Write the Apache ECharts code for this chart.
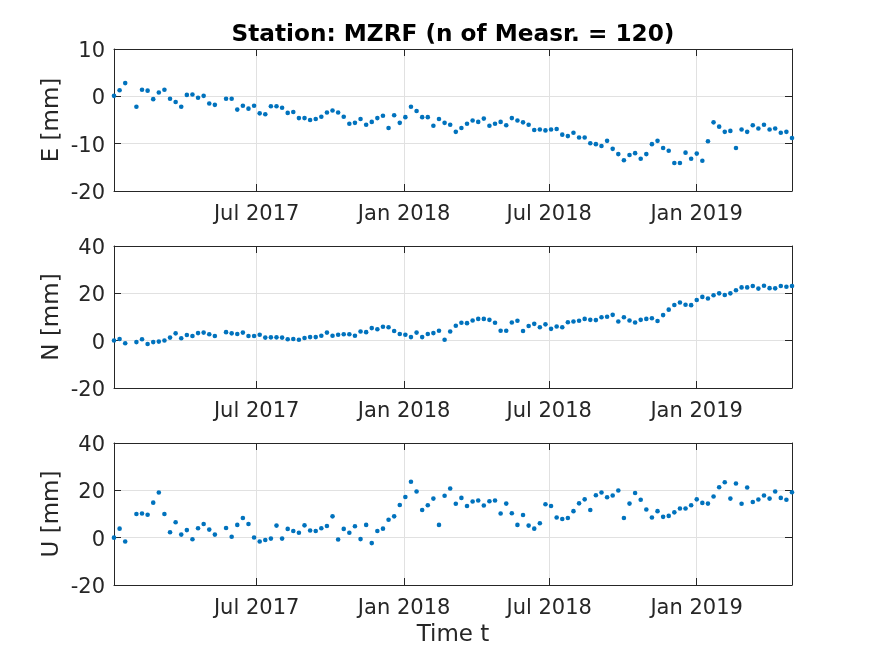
<!DOCTYPE html>
<html><head><meta charset="utf-8">
<style>html,body{margin:0;padding:0;background:#fff}#c{width:875px;height:656px}</style>
<script src="https://cdn.jsdelivr.net/npm/echarts@6/dist/echarts.min.js"></script>
</head><body><div id="c"></div>
<script>
const titleText = 'Station: MZRF (n of Measr. = 120)';
const xName = 'Time t';
const firstDay = '2017-01-04';
const lastDay = '2019-04-30';
const tickDates = ['2017-07-01','2018-01-01','2018-07-01','2019-01-01'];
const tickLabels = ['Jul 2017','Jan 2018','Jul 2018','Jan 2019'];
const panelNames = ['E [mm]','N [mm]','U [mm]'];
const yMins = [-20,-20,-20];
const yMaxs = [10,40,40];
const yIntervals = [10,20,20];
const E = [0.1,1.3,2.8,null,-2.2,1.4,1.2,-0.6,0.8,1.4,-0.5,-1.2,-2.2,0.3,0.4,-0.3,0.1,-1.5,-1.8,null,-0.5,-0.5,-2.8,-2.0,-2.6,-2.0,-3.6,-3.8,-2.1,-2.1,-2.4,-3.5,-3.3,-4.6,-4.6,-5.0,-4.8,-4.3,-3.4,-3.0,-3.4,-4.3,-5.8,-5.6,-4.8,-6.0,-5.4,-4.6,-4.1,-6.7,-4.0,-5.6,-4.4,-2.2,-3.1,-4.4,-4.4,-6.2,-4.8,-5.6,-6.0,
-7.5,-6.7,-5.8,-5.1,-5.4,-4.7,-6.2,-5.8,-5.4,-6.1,-4.6,-5.1,-5.5,-6.0,-7.1,-7.0,-7.2,-7.0,-6.9,-8.1,-8.4,-7.7,-8.7,-8.7,-9.9,-10.1,-10.5,-9.4,-11.1,-12.2,-13.5,-12.4,-12.0,-13.2,-12.2,-10.1,-9.4,-10.9,-11.5,-14.1,-14.1,-11.9,-13.2,-12.1,-13.6,-9.5,-5.5,-6.4,-7.5,-7.3,-10.9,-7.0,-7.5,-6.1,-6.8,-6.0,-7.0,-6.8,-7.7,-7.5,-8.8];
const N = [0.1,0.7,-1.1,null,-0.6,0.6,-1.4,-0.6,-0.4,0.1,1.3,3.1,1.0,2.4,2.0,3.2,3.4,2.7,2.0,null,3.6,3.1,2.8,3.4,2.0,2.0,2.5,1.3,1.4,1.4,1.3,0.6,0.7,0.4,1.1,1.5,1.5,2.1,3.4,2.1,2.5,2.7,2.7,2.1,3.9,3.6,5.3,4.8,5.9,5.7,4.1,2.8,2.5,1.5,3.4,1.5,2.8,3.2,4.2,0.4,3.9,
6.3,7.6,7.4,8.5,9.2,9.2,8.8,7.6,4.2,4.2,7.7,8.4,4.1,6.2,7.1,5.7,6.9,5.0,6.0,5.7,7.8,8.1,8.4,9.2,8.8,8.7,9.9,10.1,10.9,8.1,9.9,8.5,7.7,8.8,9.2,9.5,8.3,10.8,13.1,15.1,16.1,15.2,15.0,17.2,18.5,17.8,19.2,20.0,19.3,20.0,21.3,22.5,22.5,23.1,22.0,23.2,22.2,22.1,23.1,22.8,23.1];
const U = [0,3.8,-1.6,null,10.0,10.2,9.7,14.8,19.1,10.0,2.3,6.5,1.3,3.2,-0.7,4.0,5.8,3.4,1.3,null,4.1,0.4,5.4,8.3,5.8,0.1,-1.6,-1.0,-0.4,5.1,-0.4,3.7,2.8,2.1,5.2,3.0,2.8,4.0,4.9,9.0,-0.8,3.7,2.1,4.8,-0.6,5.4,-2.3,2.8,3.8,7.6,9.0,13.8,17.2,23.6,19.5,11.7,13.7,16.5,5.4,17.7,20.8,
14.3,16.8,13.4,15.3,15.7,13.6,15.4,15.7,10.2,14.4,10.3,5.4,9.6,5.1,3.8,6.1,14.1,13.4,8.5,7.9,8.3,11.2,14.5,16.2,11.7,17.9,19.1,17.1,17.8,19.9,8.3,14.4,18.9,16.0,11.9,8.5,11.2,8.8,9.2,10.7,12.3,12.3,13.7,16.2,14.7,14.4,17.4,21.3,23.4,16.5,22.9,14.3,21.2,15.1,16.1,17.8,16.5,19.5,16.8,16.0,19.2];

const font = 'DejaVu Sans';
const ink = '#262626';
const dot = '#0072BD';
const gridC = '#e1e1e1';
const t0 = Date.parse(firstDay+'T00:00:00Z');
const tMin = t0, tMax = Date.parse(lastDay+'T00:00:00Z');
const span = (tMax-tMin)/(E.length-1);
const tickVals = tickDates.map(d=>Date.parse(d+'T00:00:00Z'));
const labelOf = v => { const i = tickVals.indexOf(+v); return i>=0 ? tickLabels[i] : ''; };
const tops = [49,246,443];
const H = 142;
const grids=[], xAxes=[], yAxes=[], series=[];
[E,N,U].forEach((vals,k)=>{
  grids.push({left:114,width:678,top:tops[k],height:H,containLabel:false});
  const base = {type:'value',min:tMin,max:tMax,gridIndex:k,scale:true,
    axisLine:{show:true,onZero:false,lineStyle:{color:ink,width:1}},
    axisTick:{show:true,inside:true,length:7,customValues:tickVals,lineStyle:{color:ink,width:1}},
    splitLine:{show:false}};
  xAxes.push(Object.assign({},base,{position:'bottom',
    axisLabel:{show:true,customValues:tickVals,formatter:labelOf,color:ink,fontFamily:font,fontSize:21,margin:13.5,hideOverlap:false},
    splitLine:{show:true,lineStyle:{color:gridC,width:1}},
    name:k===2?xName:'',nameLocation:'middle',nameGap:39,nameMoveOverlap:false,nameTextStyle:{color:ink,fontFamily:font,fontSize:23}}));
  xAxes.push(Object.assign({},base,{position:'top',axisLabel:{show:false}}));
  const yb = {type:'value',min:yMins[k],max:yMaxs[k],interval:yIntervals[k],gridIndex:k,
    axisLine:{show:true,onZero:false,lineStyle:{color:ink,width:1}},
    axisTick:{show:true,inside:true,length:7,lineStyle:{color:ink,width:1}}};
  yAxes.push(Object.assign({},yb,{position:'left',
    axisLabel:{show:true,color:ink,fontFamily:font,fontSize:21,margin:9,
      formatter:v=>'{a|'+v+'}',
      rich:{a:{color:ink,fontFamily:font,fontSize:21,padding:[5,0,0,0]}}},
    splitLine:{show:true,lineStyle:{color:gridC,width:1}},
    name:panelNames[k],nameLocation:'middle',nameRotate:90,nameGap:50,nameMoveOverlap:false,nameTextStyle:{color:ink,fontFamily:font,fontSize:23}}));
  yAxes.push(Object.assign({},yb,{position:'right',axisLabel:{show:false},splitLine:{show:false}}));
  series.push({type:'scatter',xAxisIndex:k*2,yAxisIndex:k*2,symbol:'circle',symbolSize:4.6,clip:false,silent:true,
    itemStyle:{color:dot,opacity:1},
    data:vals.map((v,i)=>v===null?null:[tMin+i*span,v]).filter(Boolean)});
});
const chart = echarts.init(document.getElementById('c'),null,{renderer:'canvas'});
chart.setOption({animation:false,backgroundColor:'#fff',
  title:{text:titleText,left:448,top:18,textAlign:'center',textStyle:{color:'#000',fontFamily:font,fontWeight:'bold',fontSize:23.2}},
  grid:grids,xAxis:xAxes,yAxis:yAxes,series:series});
</script></body></html>
